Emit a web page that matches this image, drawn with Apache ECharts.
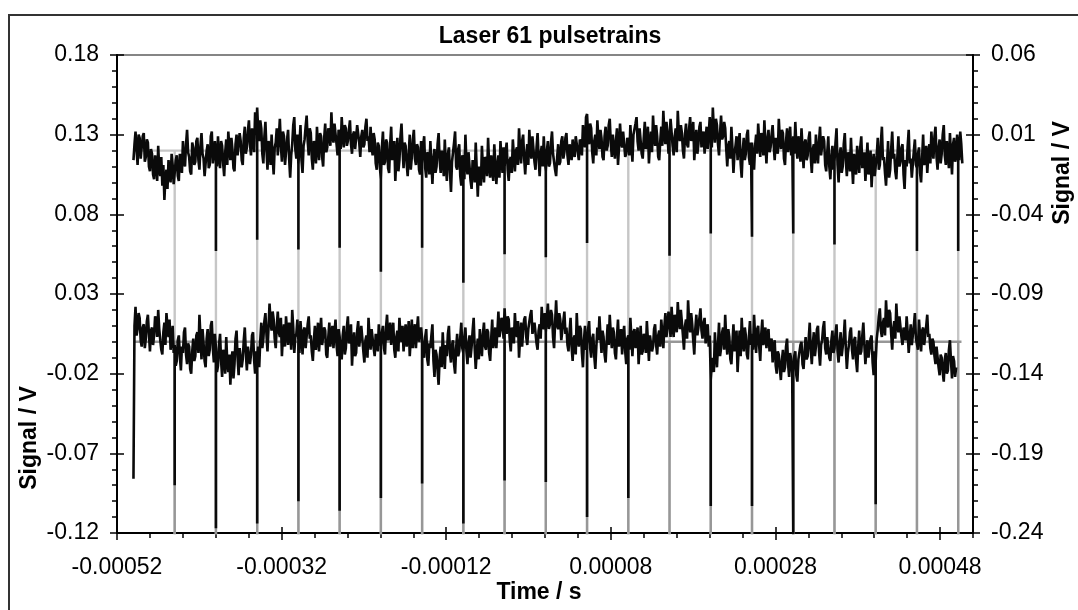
<!DOCTYPE html>
<html>
<head>
<meta charset="utf-8">
<script src="https://cdn.jsdelivr.net/npm/echarts@6/dist/echarts.min.js"></script>
<style>
  html, body { margin: 0; padding: 0; background: #fff; }
  #chart { width: 1078px; height: 610px; }
</style>
</head>
<body>
<div id="chart"></div>
<script>
// Sampling grid shared by both traces (seconds)
const sampleStart = -0.0005;
const sampleStep = 1.2525e-6;
const fitEnd = 0.000506;

// Upper trace, plotted on the right axis, in mV (40 samples per pulse period)
const upperTrace = [
  -6, 4, 12, 1, -9, 10, 8, -5, 2, 9, 11, -7, -4, 7, 5, -10, -13, 1, -2, -15, -18, -3, -8, -19, 3, -12, -16, -4, -22, -9, -31, -17, -12, -24, -6, -14, -20, -2, -9, -21,
  -14, -6, -3, -16, -19, -2, -8, -14, 6, -7, -10, 4, 13, -1, -4, -13, -15, 5, 2, -9, -7, 6, 8, -6, -12, 3, 11, -2, -5, -16, -17, 0, 4, -11, -9, 9, 12, -8, -3, 6,
  -2, -10, 9, -4, -11, 6, 3, -8, -16, -1, 7, -9, 12, 2, -6, 8, 1, -11, -13, 4, 10, -3, -4, 11, 6, -6, -9, 8, 15, -2, 2, 12, 19, 4, -3, 14, 8, -1, 24, 10,
  27, 12, 6, 19, 14, -2, -8, 9, 18, 1, -12, 6, 3, -9, 10, -4, -15, 2, 5, 14, -3, 8, 20, 3, -7, 12, 9, -9, -1, 7, 13, -5, -17, -3, 4, 16, 21, 1, -5, 10,
  -9, 4, 16, -6, -14, 3, 7, 15, 22, 6, -3, 14, 11, -5, -12, 6, 4, -8, 15, 2, -6, 11, 9, -4, -10, 8, 17, -1, 2, 14, 12, 3, 24, 9, 5, 17, 18, 4, -3, 13,
  10, 1, 21, 9, 2, 16, 14, 3, 6, 13, 19, 4, -2, 10, 12, 1, 8, 16, 17, 5, -4, 9, 13, 2, 4, 15, 20, 6, 9, -1, 15, 3, -3, 11, 7, -8, -12, 5, 3, -10,
  -18, 2, 12, -9, -7, 7, 5, -11, -14, 4, 15, -6, -2, 6, -19, -4, 8, -13, -6, 9, 17, 1, -11, 5, 3, -8, -16, -2, 10, -12, -4, 7, 13, -5, -9, 4, 2, -12, -15, 6,
  -8, 3, 9, -11, -17, -1, -3, -15, 6, -8, -21, -5, 1, -14, -10, 4, 11, -6, -14, 0, -4, -16, 7, -9, -19, -2, 2, -13, -26, -7, -6, 5, 12, -10, -12, 1, 4, -16, -22, -3,
  -5, -18, 10, -8, -15, -1, -2, -19, -24, -6, -9, -20, 5, -12, -29, -10, -13, -22, 3, -11, -20, -4, -6, -16, 8, -9, -17, -3, -11, -19, 4, -7, -21, -10, -3, -17, 6, -5, -14, 2,
  -10, -1, 5, -12, -19, -6, -4, -14, 7, -3, -13, 0, 2, -9, 14, 1, -8, 6, 10, -5, -15, -3, 4, -9, 13, 0, -5, 9, 8, -7, -12, 2, 11, -4, -16, -2, 3, -10, 9, -6,
  -13, 0, 6, -10, -8, 5, 12, -2, -3, -12, -16, -4, 4, -9, -7, 6, 9, -5, -1, 8, 11, -3, -9, 4, 3, -6, 7, -2, -4, 9, 10, -1, -6, 7, 5, -3, 16, 6, 2, 21,
  23, 9, 4, 17, 14, -1, -8, 6, 10, -3, 19, 7, 1, 13, 8, -4, -6, 9, 15, 0, 3, 16, 20, 5, -4, 10, 11, -5, 6, 14, -9, 2, 17, 5, 2, 12, 12, -4, -2, 8,
  5, -3, 16, 4, -7, 10, 9, 17, 21, 6, 0, 14, 13, -2, -5, 8, 18, 1, 7, 15, -8, 4, 12, -1, 22, 9, 3, 16, 9, -4, -6, 6, 15, 3, 25, 10, 4, 18, 11, -2,
  8, 20, 19, 3, -3, 9, 14, -1, 25, 11, 6, 16, 11, 0, -5, 10, 17, 4, 2, 14, 21, 6, 9, 18, -6, 5, 13, -2, 4, 15, 18, 2, 7, 12, -2, 8, 15, 1, 10, 21,
  12, 2, 27, 13, 5, 20, 16, 4, -3, 11, 22, 7, 9, 18, 14, 1, -10, 3, 6, -5, 15, 2, -14, -2, 3, 9, -6, 4, 11, -8, -17, 0, 8, -6, -2, 10, 13, -4, -9, 5,
  5, -4, -12, 3, 10, -2, 17, 6, -4, 11, 8, -3, 19, 5, -8, 7, 13, -1, 2, 10, 16, 4, -6, 8, 9, -2, 20, 7, 1, 13, 11, -5, -9, 6, 14, -1, 6, 15, -3, 8,
  9, -2, 18, 4, -5, 9, 3, -7, 14, 2, -11, 5, 7, -6, -3, 8, 12, -4, -14, 1, 4, -8, 10, -1, -8, 6, 15, -3, -2, 9, 6, -9, -13, -1, 9, -10, -18, -4, 3, -12,
  -7, 5, 14, -9, -20, -3, 2, -14, -10, 4, 11, -6, -16, -1, -4, -13, 8, -8, -21, -2, -9, -15, 3, -6, -14, 2, 9, -11, -6, -1, -19, -8, 5, -15, -12, 0, -23, -9, -2, -16,
  -15, -3, 8, -12, -9, 5, 15, -6, -4, -14, -22, -8, 6, -17, -12, 1, 12, -5, -2, -13, -18, -4, 9, -10, -7, 2, 4, -15, -24, -6, -10, 3, 13, -8, -5, -17, -16, 0, 7, -9,
  -11, -2, 2, -14, -20, -5, 10, -9, -7, 3, -14, -3, 4, -8, 12, 1, -5, 9, 15, -4, -12, 2, 7, -8, -2, 10, 16, -3, -9, 6, 5, -11, 11, -2, -15, 4, 8, -7, -4, 10,
  3, -6, 12, 4, -8
];

// Lower trace, plotted on the left axis, in mV
const lowerTrace = [
  -86, 10, 22, 4, 8, 18, 15, 1, -3, 9, 11, -4, 2, 13, 17, 5, -6, 7, 9, -2, 4, 16, 14, 3, 20, 8, 1, -5, -8, 6, 12, -2, 18, 9, 3, 14, -5, 2, 10, -7,
  -2, -15, -12, 1, 4, -9, -18, -3, -7, 6, 9, -8, -14, -1, -3, -17, -20, -6, 2, -12, -9, 4, 6, -7, 17, 3, -11, 8, -1, -12, -16, 2, 8, -9, -5, 10, 13, -4, -13, 5,
  -4, -19, -15, -2, 5, -12, -22, -5, -9, -20, 3, -13, -19, -8, -27, -11, -6, -23, -14, 2, 7, -10, -21, -4, -3, -16, -11, 1, 9, -7, -18, -3, -2, -14, -8, 4, 6, -11, -20, -6,
  -10, -3, -16, 1, 12, -4, 2, 13, 18, 5, -6, 9, 24, 12, 7, 19, 14, 2, -4, 10, 19, 6, 3, 15, -9, 4, 11, -3, 16, 6, -2, 12, 8, -5, 20, 9, -7, 3, 5, 14,
  1, -7, 13, 4, -8, 7, 9, -4, -3, 11, 16, 2, 4, -6, -12, 1, 10, -5, 2, 12, -6, 5, 15, -2, -1, 9, 7, -8, -10, 3, 12, -3, 5, 10, -4, 6, 14, -2, -9, 8,
  3, -5, -11, 4, 10, -8, -4, 9, 16, -1, 2, 11, -15, -2, 6, -9, -7, 7, 13, -3, -2, 10, 9, -6, -13, 1, 4, -10, 15, 3, -5, 8, 8, -4, -9, 5, 1, -6, 11, 0,
  -3, 6, 10, -4, -8, 9, 17, 1, 4, 12, -2, 7, 12, -5, -10, 3, 7, -6, 15, 4, 0, 10, -6, 5, 11, -3, 3, 13, -9, 2, 14, -4, 6, 11, -4, 8, 16, 0, -1, 9,
  2, -6, -10, 3, 8, -11, -15, -1, -4, 4, 11, -12, -22, -5, -8, -18, -27, -10, -3, -16, 6, -8, -17, -2, -9, 5, 10, -7, -13, -2, 1, -14, -20, -4, 5, -9, -6, 3, 12, -4,
  -7, 3, 9, -6, -14, -1, 4, -10, -3, 7, 15, -4, -17, -6, 2, -11, 8, -2, -9, 5, 12, -3, -5, 8, 6, -7, -12, 2, 14, -4, 1, 9, -4, 6, 19, 3, 7, 15, 13, 2,
  21, 8, 5, 16, 14, 1, -6, 9, 10, -1, 18, 6, 3, 13, -10, 2, 12, -3, 7, 14, 16, 3, -2, 8, 9, 17, 20, 5, 4, 12, 13, -1, -5, 7, 11, 2, 22, 10, 8, 18,
  6, 15, 24, 8, 11, 20, 17, 3, -4, 12, 26, 10, 8, 18, 14, 1, 2, 13, 19, 5, 9, -2, -6, 6, 15, -3, -12, 2, 4, -8, 18, 3, -3, 10, 8, -7, -16, 1, 10, -5,
  -2, 8, 13, -4, -10, 2, 5, -9, -17, -3, 9, 1, 16, 4, -7, 7, 3, -8, -13, 0, 11, -2, 17, 5, -4, 9, 6, -7, -11, 3, 14, -3, 1, 8, -8, 4, 10, -6, -14, 2,
  4, -5, 15, 3, -9, 6, 8, -4, 1, 9, -14, -2, 10, -8, -6, 5, 2, -7, 13, 1, -12, 4, 5, -6, -3, 8, 11, -2, -8, 4, 7, -3, 14, 5, -4, 10, 18, 3, 9, 19,
  12, 3, 22, 10, 3, 17, 16, 6, 25, 13, 8, 20, 19, 4, -5, 10, 14, 2, 26, 12, 6, 18, 11, 1, -8, 8, 17, 4, 9, 15, 21, 7, 2, 12, 15, -1, 7, 11, -3, 4,
  -24, -14, -10, -19, 6, -7, -16, -2, 12, -9, -4, 6, 9, -5, 17, 2, -8, 8, 3, -11, -14, -1, 11, -6, 1, 7, -19, -5, 7, -9, 15, 1, -6, 9, 4, -8, -11, 3, 13, -2,
  5, -5, 17, 3, -7, 8, 10, -3, -12, 5, 14, -2, 2, 9, -4, 4, 8, -6, -1, 2, -13, -4, 1, -15, -20, -6, -8, -17, -24, -12, -5, -19, -16, -3, 2, -14, -22, -7, -11, -20,
  -19, -9, -6, -21, -25, -11, -12, -2, 0, -14, -17, -6, 3, -11, -9, 2, 12, -5, -14, -1, 6, -9, -3, 8, 10, -6, -15, -2, 1, 9, 13, -4, -8, 3, 4, -10, -12, 1, 7, -7,
  -4, 5, 11, -6, -13, -1, 6, -9, -8, 3, 14, -4, -17, -7, -2, 6, 9, -5, -11, 1, 3, -12, -19, -3, 7, -8, -6, 4, 12, -2, -14, -5, 1, -10, -9, 2, 4, -13, -21, -6,
  -12, 2, 8, 16, 21, 7, 3, 12, 15, 4, 26, 13, 9, 20, 18, 5, -5, 8, 13, 2, 24, 11, 6, 16, 17, 3, -2, 9, 10, 1, 16, 6, -7, 3, 11, -2, 4, 10, 18, 2,
  2, -5, 14, 4, -6, 7, 9, -2, -3, 10, 17, 3, 5, -4, -8, 2, 0, -9, -14, -3, -4, -16, -21, -8, -10, -19, -25, -11, -7, -20, -18, -5, 1, -12, -23, -9, -12, -22, -16
];

// Laser pulse times (s)
const pulseTimes = [
  -0.0004499, -0.0003998, -0.0003497, -0.0002996, -0.0002495,
  -0.0001994, -0.0001493, -0.0000992, -0.0000491, 0.0000010,
  0.0000511, 0.0001012, 0.0001513, 0.0002014, 0.0002515,
  0.0003016, 0.0003517, 0.0004018, 0.0004519, 0.0005020
];

// Depth reached by each pulse dip, mV (null: no dip recorded)
const upperDips = [null, -63, -56, -62, -61, -76, -61, -83, -65, -67,
                   -58, null, -66, -52, -54, -52, -59, null, -63, -63];
const lowerDips = [-90, -117, -114, -100, -106, -98, -89, -114, -87, -88,
                   -110, -98, null, -103, -103, -121, null, -102, null, null];

// Fitted pulse-train model: baseline and pulse floor, mV
const upperFitLevel = 0;
const lowerFitLevel = 0;
const fitFloor = -300;

// Axis ticks
const xTicks = [-0.00052, -0.00032, -0.00012, 0.00008, 0.00028, 0.00048];
const xMax = 0.00052;
const leftTicks = [-0.12, -0.07, -0.02, 0.03, 0.08, 0.13, 0.18];
const rightTicks = [-0.24, -0.19, -0.14, -0.09, -0.04, 0.01, 0.06];

const mV = 1000;
const step = (a) => +(a[1] - a[0]).toFixed(8);

function buildTrace(values, dips) {
  const dipAt = {};
  pulseTimes.forEach((t, k) => {
    if (dips[k] != null) dipAt[Math.round((t - sampleStart) / sampleStep)] = dips[k];
  });
  const out = [];
  values.forEach((v, i) => {
    const t = sampleStart + i * sampleStep;
    out.push([t, v / mV]);
    if (dipAt[i] != null) {
      out.push([t, dipAt[i] / mV]);
      out.push([t, v / mV]);
    }
  });
  return out;
}

function buildFit(level) {
  const out = [[sampleStart, level / mV]];
  pulseTimes.forEach(t => {
    out.push([t, level / mV], [t, fitFloor / mV], [t, level / mV]);
  });
  out.push([fitEnd, level / mV]);
  return out;
}

const FONT = '"Liberation Sans", Arial, Helvetica, sans-serif';
const BLACK = '#000';

const labelStyle = { color: BLACK, fontSize: 23, fontFamily: FONT };

function mainY(ticks, pos) {
  return {
    type: 'value', position: pos,
    min: ticks[0], max: ticks[ticks.length - 1], interval: step(ticks),
    axisLine: { show: true, onZero: false, lineStyle: { color: BLACK, width: 2 } },
    axisTick: { show: true, inside: false, length: 7, lineStyle: { color: BLACK, width: 1.5 } },
    minorTick: { show: true, splitNumber: 5, length: 5, lineStyle: { color: BLACK, width: 1.5 } },
    axisLabel: Object.assign({ margin: 18, formatter: v => v.toFixed(2) }, labelStyle),
    splitLine: { show: false }, minorSplitLine: { show: false }
  };
}
function innerY(ticks, pos) {
  return {
    type: 'value', position: pos,
    min: ticks[0], max: ticks[ticks.length - 1], interval: step(ticks),
    axisLine: { show: false, onZero: false },
    axisTick: { show: true, inside: true, length: 7, lineStyle: { color: BLACK, width: 1.5 } },
    axisLabel: { show: false }, splitLine: { show: false }
  };
}

const chart = echarts.init(document.getElementById('chart'), null, { renderer: 'canvas' });

chart.setOption({
  animation: false,
  backgroundColor: '#fff',
  grid: {
    left: 117, right: 105, top: 55, bottom: 77,
    show: true, borderColor: '#858585', borderWidth: 2, backgroundColor: 'transparent'
  },
  xAxis: [
    {
      type: 'value', position: 'bottom',
      min: xTicks[0], max: xMax, interval: step(xTicks),
      axisLine: { show: true, onZero: false, lineStyle: { color: BLACK, width: 2 } },
      axisTick: { show: true, inside: false, length: 7, lineStyle: { color: BLACK, width: 1.5 } },
      axisLabel: Object.assign({ margin: 23, showMaxLabel: false, showMinLabel: true,
        formatter: v => v.toFixed(5) }, labelStyle),
      splitLine: { show: false }
    },
    {
      type: 'value', position: 'bottom',
      min: xTicks[0], max: xMax, interval: step(xTicks) / 5,
      axisLine: { show: false, onZero: false },
      axisTick: { show: true, inside: false, length: 5, lineStyle: { color: BLACK, width: 1.5 } },
      axisLabel: { show: false }, splitLine: { show: false }
    },
    {
      type: 'value', position: 'bottom',
      min: xTicks[0], max: xMax, interval: step(xTicks),
      axisLine: { show: false, onZero: false },
      axisTick: { show: true, inside: true, length: 6, lineStyle: { color: BLACK, width: 1.5 } },
      axisLabel: { show: false }, splitLine: { show: false }
    }
  ],
  yAxis: [
    mainY(leftTicks, 'left'),
    mainY(rightTicks, 'right'),
    innerY(leftTicks, 'left'),
    innerY(rightTicks, 'right')
  ],
  series: [
    {
      name: 'upper fit', type: 'line', xAxisIndex: 0, yAxisIndex: 1,
      data: buildFit(upperFitLevel), showSymbol: false, symbol: 'none', silent: true,
      lineStyle: { color: '#c6c6c6', width: 2.4 }, z: 1
    },
    {
      name: 'lower fit', type: 'line', xAxisIndex: 0, yAxisIndex: 0,
      data: buildFit(lowerFitLevel), showSymbol: false, symbol: 'none', silent: true,
      lineStyle: { color: '#979797', width: 2.4 }, z: 2
    },
    {
      name: 'upper trace', type: 'line', xAxisIndex: 0, yAxisIndex: 1,
      data: buildTrace(upperTrace, upperDips), showSymbol: false, symbol: 'none', silent: true,
      lineStyle: { color: '#0a0a0a', width: 2.6, join: 'bevel' }, z: 3
    },
    {
      name: 'lower trace', type: 'line', xAxisIndex: 0, yAxisIndex: 0,
      data: buildTrace(lowerTrace, lowerDips), showSymbol: false, symbol: 'none', silent: true,
      lineStyle: { color: '#0a0a0a', width: 2.6, join: 'bevel' }, z: 3
    }
  ],
  graphic: [
    {
      type: 'rect', silent: true, z: 0,
      shape: { x: 9, y: 15, width: 1200, height: 800 },
      style: { fill: 'none', stroke: '#333', lineWidth: 2 }
    },
    {
      type: 'text', x: 550, y: 37, silent: true,
      style: { text: 'Laser 61 pulsetrains', font: 'bold 23px ' + FONT, fill: BLACK,
        align: 'center', verticalAlign: 'middle', textAlign: 'center', textVerticalAlign: 'middle' }
    },
    {
      type: 'text', x: 539, y: 592.5, silent: true,
      style: { text: 'Time / s', font: 'bold 23px ' + FONT, fill: BLACK,
        align: 'center', verticalAlign: 'middle', textAlign: 'center', textVerticalAlign: 'middle' }
    },
    {
      type: 'text', x: 30, y: 438, rotation: Math.PI / 2, silent: true,
      style: { text: 'Signal / V', font: 'bold 23px ' + FONT, fill: BLACK,
        align: 'center', verticalAlign: 'middle', textAlign: 'center', textVerticalAlign: 'middle' }
    },
    {
      type: 'text', x: 1063, y: 173, rotation: Math.PI / 2, silent: true,
      style: { text: 'Signal / V', font: 'bold 23px ' + FONT, fill: BLACK,
        align: 'center', verticalAlign: 'middle', textAlign: 'center', textVerticalAlign: 'middle' }
    }
  ]
});
</script>
</body>
</html>
